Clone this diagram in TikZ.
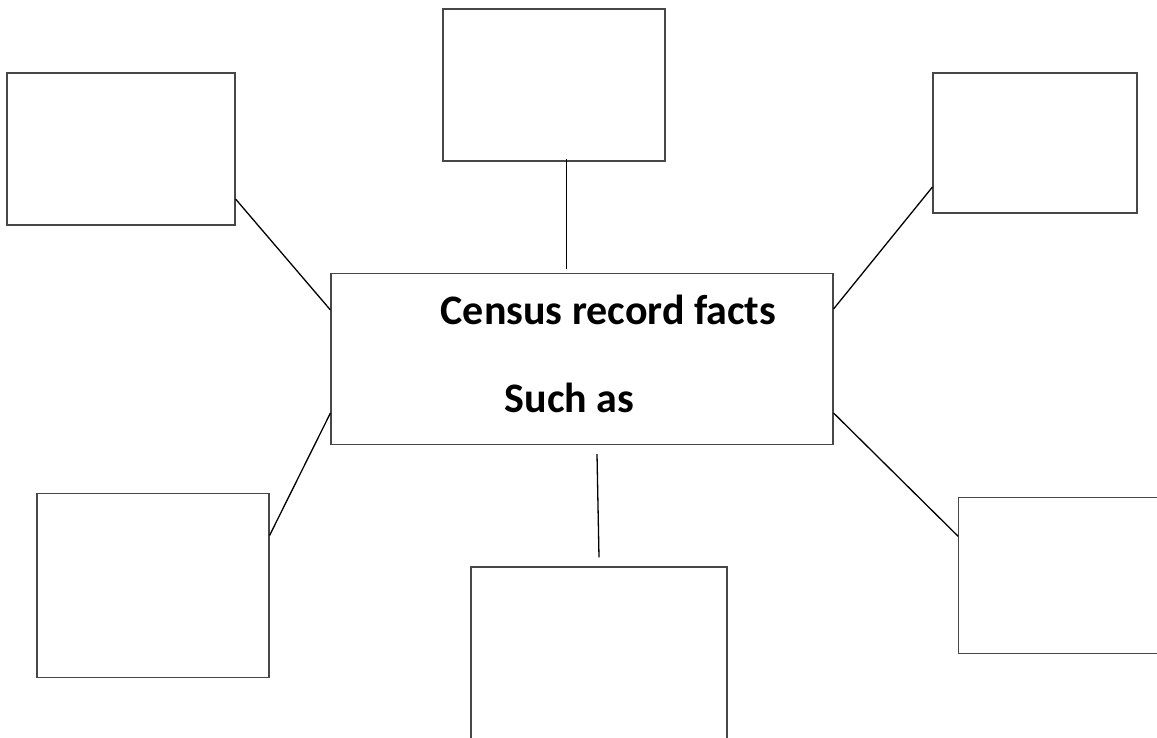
\documentclass[tikz,border=0pt]{standalone}
\usepackage{fontspec}
\setmainfont{Carlito}
\begin{document}
\begin{tikzpicture}[x=1pt,y=-1pt,
  box/.style={draw=black!72,line width=1.1pt,rectangle,inner sep=0pt},
  conn/.style={draw=black,line width=1.3pt},
  label/.style={font=\fontsize{42}{50}\selectfont\bfseries,anchor=base,inner sep=0pt}]
\useasboundingbox (0,0) rectangle (1157,738);
\clip (0,0) rectangle (1157,738);
\node[box,minimum width=222pt,minimum height=152pt] (T) at (554,85) {};
\node[box,minimum width=228pt,minimum height=152pt] (TL) at (121,149) {};
\node[box,minimum width=204pt,minimum height=140pt] (TR) at (1035,143) {};
\node[box,minimum width=502pt,minimum height=171pt] (C) at (582,359) {};
\node[box,minimum width=232pt,minimum height=184pt] (BL) at (153,585.5) {};
\node[box,minimum width=256pt,minimum height=190pt] (B) at (599,662) {};
\node[box,minimum width=220pt,minimum height=156pt] (BR) at (1068.7,575.3) {};
\node[label] (t1) at (608.5,324) {Census record facts};
\node[label] (t2) at (569.7,412) {Such as};
\draw[conn] ([xshift=12.7pt,yshift=3pt]T.south) -- ([xshift=-15.3pt,yshift=4pt]C.north);
\draw[conn] ([yshift=-50pt]TL.east) -- ([yshift=49pt]C.west);
\draw[conn] ([yshift=-44pt]TR.west) -- ([yshift=50pt]C.east);
\draw[conn] ([yshift=-54pt]C.west) -- ([yshift=50pt]BL.east);
\draw[conn] ([xshift=15pt,yshift=-9pt]C.south) -- ([yshift=9pt]B.north);
\draw[conn] ([yshift=-54pt]C.east) -- ([yshift=39pt]BR.west);
\end{tikzpicture}
\end{document}
